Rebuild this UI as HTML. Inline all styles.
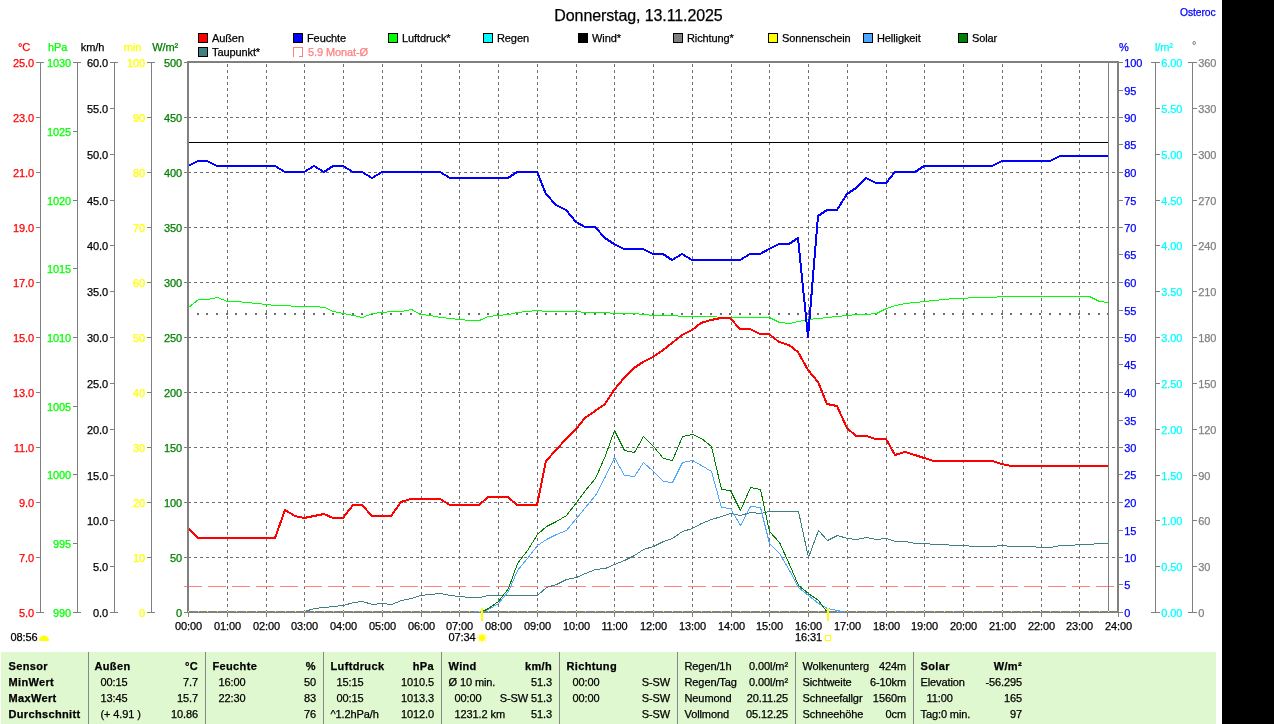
<!DOCTYPE html>
<html lang="de"><head><meta charset="utf-8"><title>Donnerstag, 13.11.2025</title>
<style>
html,body{margin:0;padding:0;background:#fff;}
body{width:1274px;height:724px;overflow:hidden;}
svg{display:block;font-family:"Liberation Sans",Arial,sans-serif;font-size:11px;}
text{stroke-width:0.25px;letter-spacing:-0.1px;}
.b{font-weight:bold;letter-spacing:0.35px;}
.e{text-anchor:end;}
.m{text-anchor:middle;}
.ax{stroke:#808080;stroke-width:1;shape-rendering:crispEdges;fill:none;}
.g{stroke:#707070;stroke-width:1;stroke-dasharray:3 3;shape-rendering:crispEdges;fill:none;}
.ln{fill:none;stroke-linejoin:round;stroke-linecap:butt;shape-rendering:crispEdges;}
</style></head><body>
<svg width="1274" height="724" viewBox="0 0 1274 724">
<rect x="0" y="0" width="1274" height="724" fill="#ffffff"/>
<text x="638.5" y="21" class="m" style="font-size:16px" fill="#000" stroke="#000">Donnerstag, 13.11.2025</text>
<text x="1180" y="16" fill="#0000ff" stroke="#0000ff" textLength="35.5" lengthAdjust="spacingAndGlyphs">Osteroc</text>
<rect x="198.5" y="33.5" width="9" height="9" fill="#ff0000" stroke="#000" stroke-width="1" shape-rendering="crispEdges"/>
<text x="212" y="42" fill="#000" stroke="#000">Außen</text>
<rect x="293.5" y="33.5" width="9" height="9" fill="#0000ff" stroke="#000" stroke-width="1" shape-rendering="crispEdges"/>
<text x="307" y="42" fill="#000" stroke="#000">Feuchte</text>
<rect x="388.5" y="33.5" width="9" height="9" fill="#00ff00" stroke="#000" stroke-width="1" shape-rendering="crispEdges"/>
<text x="402" y="42" fill="#000" stroke="#000">Luftdruck*</text>
<rect x="483.5" y="33.5" width="9" height="9" fill="#00ffff" stroke="#000" stroke-width="1" shape-rendering="crispEdges"/>
<text x="497" y="42" fill="#000" stroke="#000">Regen</text>
<rect x="578.5" y="33.5" width="9" height="9" fill="#000000" stroke="#000" stroke-width="1" shape-rendering="crispEdges"/>
<text x="592" y="42" fill="#000" stroke="#000">Wind*</text>
<rect x="673.5" y="33.5" width="9" height="9" fill="#808080" stroke="#000" stroke-width="1" shape-rendering="crispEdges"/>
<text x="687" y="42" fill="#000" stroke="#000">Richtung*</text>
<rect x="768.5" y="33.5" width="9" height="9" fill="#ffff00" stroke="#000" stroke-width="1" shape-rendering="crispEdges"/>
<text x="782" y="42" fill="#000" stroke="#000">Sonnenschein</text>
<rect x="863.5" y="33.5" width="9" height="9" fill="#4da6ff" stroke="#000" stroke-width="1" shape-rendering="crispEdges"/>
<text x="877" y="42" fill="#000" stroke="#000">Helligkeit</text>
<rect x="958.5" y="33.5" width="9" height="9" fill="#008000" stroke="#000" stroke-width="1" shape-rendering="crispEdges"/>
<text x="972" y="42" fill="#000" stroke="#000">Solar</text>
<rect x="198.5" y="47.5" width="9" height="9" fill="#408080" stroke="#000" stroke-width="1" shape-rendering="crispEdges"/>
<text x="212" y="56" fill="#000" stroke="#000">Taupunkt*</text>
<path d="M293.5 57V47.5H302.5V56.5H299" fill="none" stroke="#ff8080" stroke-width="1" shape-rendering="crispEdges"/>
<text x="308" y="56" fill="#ff8080" stroke="#ff8080">5.9 Monat-Ø</text>
<line class="g" x1="227.5" y1="64" x2="227.5" y2="611"/>
<line class="g" x1="266.5" y1="64" x2="266.5" y2="611"/>
<line class="g" x1="304.5" y1="64" x2="304.5" y2="611"/>
<line class="g" x1="343.5" y1="64" x2="343.5" y2="611"/>
<line class="g" x1="382.5" y1="64" x2="382.5" y2="611"/>
<line class="g" x1="421.5" y1="64" x2="421.5" y2="611"/>
<line class="g" x1="459.5" y1="64" x2="459.5" y2="611"/>
<line class="g" x1="498.5" y1="64" x2="498.5" y2="611"/>
<line class="g" x1="537.5" y1="64" x2="537.5" y2="611"/>
<line class="g" x1="576.5" y1="64" x2="576.5" y2="611"/>
<line class="g" x1="614.5" y1="64" x2="614.5" y2="611"/>
<line class="g" x1="653.5" y1="64" x2="653.5" y2="611"/>
<line class="g" x1="692.5" y1="64" x2="692.5" y2="611"/>
<line class="g" x1="731.5" y1="64" x2="731.5" y2="611"/>
<line class="g" x1="769.5" y1="64" x2="769.5" y2="611"/>
<line class="g" x1="808.5" y1="64" x2="808.5" y2="611"/>
<line class="g" x1="847.5" y1="64" x2="847.5" y2="611"/>
<line class="g" x1="886.5" y1="64" x2="886.5" y2="611"/>
<line class="g" x1="924.5" y1="64" x2="924.5" y2="611"/>
<line class="g" x1="963.5" y1="64" x2="963.5" y2="611"/>
<line class="g" x1="1002.5" y1="64" x2="1002.5" y2="611"/>
<line class="g" x1="1041.5" y1="64" x2="1041.5" y2="611"/>
<line class="g" x1="1079.5" y1="64" x2="1079.5" y2="611"/>
<line class="g" x1="188" y1="557.5" x2="1117" y2="557.5"/>
<line class="g" x1="188" y1="502.5" x2="1117" y2="502.5"/>
<line class="g" x1="188" y1="447.5" x2="1117" y2="447.5"/>
<line class="g" x1="188" y1="392.5" x2="1117" y2="392.5"/>
<line class="g" x1="188" y1="337.5" x2="1117" y2="337.5"/>
<line class="g" x1="188" y1="282.5" x2="1117" y2="282.5"/>
<line class="g" x1="188" y1="227.5" x2="1117" y2="227.5"/>
<line class="g" x1="188" y1="172.5" x2="1117" y2="172.5"/>
<line class="g" x1="188" y1="117.5" x2="1117" y2="117.5"/>
<g fill="#6c6c6c" shape-rendering="crispEdges"><rect x="197" y="313" width="2" height="2"/><rect x="206" y="313" width="2" height="2"/><rect x="216" y="313" width="2" height="2"/><rect x="226" y="313" width="2" height="2"/><rect x="235" y="313" width="2" height="2"/><rect x="245" y="313" width="2" height="2"/><rect x="255" y="313" width="2" height="2"/><rect x="265" y="313" width="2" height="2"/><rect x="274" y="313" width="2" height="2"/><rect x="284" y="313" width="2" height="2"/><rect x="294" y="313" width="2" height="2"/><rect x="303" y="313" width="2" height="2"/><rect x="313" y="313" width="2" height="2"/><rect x="323" y="313" width="2" height="2"/><rect x="332" y="313" width="2" height="2"/><rect x="342" y="313" width="2" height="2"/><rect x="352" y="313" width="2" height="2"/><rect x="361" y="313" width="2" height="2"/><rect x="371" y="313" width="2" height="2"/><rect x="381" y="313" width="2" height="2"/><rect x="390" y="313" width="2" height="2"/><rect x="400" y="313" width="2" height="2"/><rect x="410" y="313" width="2" height="2"/><rect x="419" y="313" width="2" height="2"/><rect x="429" y="313" width="2" height="2"/><rect x="439" y="313" width="2" height="2"/><rect x="449" y="313" width="2" height="2"/><rect x="458" y="313" width="2" height="2"/><rect x="468" y="313" width="2" height="2"/><rect x="478" y="313" width="2" height="2"/><rect x="487" y="313" width="2" height="2"/><rect x="497" y="313" width="2" height="2"/><rect x="507" y="313" width="2" height="2"/><rect x="516" y="313" width="2" height="2"/><rect x="526" y="313" width="2" height="2"/><rect x="536" y="313" width="2" height="2"/><rect x="545" y="313" width="2" height="2"/><rect x="555" y="313" width="2" height="2"/><rect x="565" y="313" width="2" height="2"/><rect x="575" y="313" width="2" height="2"/><rect x="584" y="313" width="2" height="2"/><rect x="594" y="313" width="2" height="2"/><rect x="604" y="313" width="2" height="2"/><rect x="613" y="313" width="2" height="2"/><rect x="623" y="313" width="2" height="2"/><rect x="633" y="313" width="2" height="2"/><rect x="642" y="313" width="2" height="2"/><rect x="652" y="313" width="2" height="2"/><rect x="662" y="313" width="2" height="2"/><rect x="671" y="313" width="2" height="2"/><rect x="681" y="313" width="2" height="2"/><rect x="691" y="313" width="2" height="2"/><rect x="700" y="313" width="2" height="2"/><rect x="710" y="313" width="2" height="2"/><rect x="720" y="313" width="2" height="2"/><rect x="729" y="313" width="2" height="2"/><rect x="739" y="313" width="2" height="2"/><rect x="749" y="313" width="2" height="2"/><rect x="759" y="313" width="2" height="2"/><rect x="768" y="313" width="2" height="2"/><rect x="778" y="313" width="2" height="2"/><rect x="788" y="313" width="2" height="2"/><rect x="797" y="313" width="2" height="2"/><rect x="807" y="313" width="2" height="2"/><rect x="817" y="313" width="2" height="2"/><rect x="826" y="313" width="2" height="2"/><rect x="836" y="313" width="2" height="2"/><rect x="846" y="313" width="2" height="2"/><rect x="855" y="313" width="2" height="2"/><rect x="865" y="313" width="2" height="2"/><rect x="875" y="313" width="2" height="2"/><rect x="885" y="313" width="2" height="2"/><rect x="894" y="313" width="2" height="2"/><rect x="904" y="313" width="2" height="2"/><rect x="914" y="313" width="2" height="2"/><rect x="923" y="313" width="2" height="2"/><rect x="933" y="313" width="2" height="2"/><rect x="943" y="313" width="2" height="2"/><rect x="952" y="313" width="2" height="2"/><rect x="962" y="313" width="2" height="2"/><rect x="972" y="313" width="2" height="2"/><rect x="981" y="313" width="2" height="2"/><rect x="991" y="313" width="2" height="2"/><rect x="1001" y="313" width="2" height="2"/><rect x="1010" y="313" width="2" height="2"/><rect x="1020" y="313" width="2" height="2"/><rect x="1030" y="313" width="2" height="2"/><rect x="1039" y="313" width="2" height="2"/><rect x="1049" y="313" width="2" height="2"/><rect x="1059" y="313" width="2" height="2"/><rect x="1069" y="313" width="2" height="2"/><rect x="1078" y="313" width="2" height="2"/><rect x="1088" y="313" width="2" height="2"/><rect x="1098" y="313" width="2" height="2"/><rect x="1107" y="313" width="2" height="2"/></g>
<line x1="189" y1="142.5" x2="1108" y2="142.5" stroke="#000" stroke-width="1" shape-rendering="crispEdges"/>
<line x1="184" y1="586.5" x2="1115" y2="586.5" stroke="#ff8080" stroke-width="1" stroke-dasharray="18 6" shape-rendering="crispEdges"/>
<polyline class="ln" stroke="#408080" stroke-width="1" points="304.5,611.5 314.5,608.5 324.5,607.5 333.5,606.5 343.5,605.5 353.5,602.5 362.5,601.5 372.5,604.5 382.5,603.5 391.5,604.5 401.5,600.5 411.5,598.5 420.5,595.5 430.5,594.5 440.5,593.5 450.5,595.5 459.5,596.5 469.5,597.5 479.5,597.5 488.5,595.5 498.5,595.5 508.5,595.5 517.5,595.5 527.5,595.5 537.5,595.5 546.5,587.5 556.5,584.5 566.5,579.5 576.5,577.5 585.5,573.5 595.5,569.5 605.5,568.5 614.5,564.5 624.5,560.5 634.5,555.5 643.5,549.5 653.5,546.5 663.5,541.5 672.5,538.5 682.5,531.5 692.5,528.5 701.5,523.5 711.5,519.5 721.5,516.5 730.5,513.5 740.5,515.5 750.5,512.5 760.5,513.5 769.5,511.5 779.5,511.5 789.5,511.5 798.5,511.5 808.5,557.5 818.5,530.5 827.5,540.5 837.5,535.5 847.5,538.5 856.5,539.5 866.5,537.5 876.5,539.5 886.5,538.5 895.5,541.5 905.5,541.5 915.5,543.5 924.5,543.5 934.5,544.5 944.5,544.5 953.5,545.5 963.5,545.5 973.5,546.5 982.5,546.5 992.5,546.5 1002.5,545.5 1011.5,546.5 1021.5,546.5 1031.5,546.5 1040.5,547.5 1050.5,547.5 1060.5,545.5 1070.5,545.5 1079.5,544.5 1089.5,544.5 1099.5,543.5 1108.5,543.5"/>
<polyline class="ln" stroke="#4da6ff" stroke-width="1" points="482.5,611.5 488.5,609.5 498.5,603.5 508.5,591.5 517.5,570.5 527.5,558.5 537.5,545.5 546.5,539.5 556.5,534.5 566.5,530.5 576.5,518.5 585.5,507.5 595.5,495.5 605.5,476.5 614.5,457.5 624.5,475.5 634.5,476.5 643.5,462.5 653.5,471.5 663.5,481.5 672.5,482.5 682.5,462.5 692.5,460.5 701.5,465.5 711.5,471.5 721.5,507.5 730.5,508.5 740.5,525.5 750.5,506.5 760.5,507.5 769.5,543.5 779.5,553.5 789.5,570.5 798.5,587.5 808.5,595.5 818.5,603.5 827.5,608.5 837.5,610.5 847.5,612.5"/>
<polyline class="ln" stroke="#008000" stroke-width="1" points="482.5,611.5 488.5,608.5 498.5,601.5 508.5,588.5 517.5,563.5 527.5,550.5 537.5,534.5 546.5,526.5 556.5,521.5 566.5,515.5 576.5,502.5 585.5,490.5 595.5,478.5 605.5,455.5 614.5,430.5 624.5,450.5 634.5,452.5 643.5,436.5 653.5,446.5 663.5,458.5 672.5,460.5 682.5,436.5 692.5,434.5 701.5,438.5 711.5,446.5 721.5,489.5 730.5,490.5 740.5,510.5 750.5,487.5 760.5,489.5 769.5,531.5 779.5,542.5 789.5,564.5 798.5,585.5 808.5,593.5 818.5,600.5 827.5,612.5"/>
<polyline class="ln" stroke="#00ff00" stroke-width="1" points="188.5,307.5 198.5,299.5 207.5,299.5 217.5,297.5 227.5,301.5 236.5,301.5 246.5,302.5 256.5,303.5 266.5,304.5 275.5,305.5 285.5,305.5 295.5,306.5 304.5,306.5 314.5,306.5 324.5,307.5 333.5,311.5 343.5,313.5 353.5,315.5 362.5,317.5 372.5,313.5 382.5,312.5 391.5,311.5 401.5,311.5 411.5,309.5 420.5,314.5 430.5,315.5 440.5,317.5 450.5,318.5 459.5,319.5 469.5,320.5 479.5,320.5 488.5,316.5 498.5,315.5 508.5,314.5 517.5,312.5 527.5,311.5 537.5,310.5 546.5,311.5 556.5,311.5 566.5,311.5 576.5,311.5 585.5,312.5 595.5,312.5 605.5,312.5 614.5,313.5 624.5,313.5 634.5,313.5 643.5,314.5 653.5,315.5 663.5,315.5 672.5,315.5 682.5,316.5 692.5,316.5 701.5,316.5 711.5,316.5 721.5,317.5 730.5,317.5 740.5,317.5 750.5,317.5 760.5,317.5 769.5,317.5 779.5,322.5 789.5,323.5 798.5,321.5 808.5,319.5 818.5,318.5 827.5,317.5 837.5,316.5 847.5,315.5 856.5,314.5 866.5,314.5 876.5,313.5 886.5,308.5 895.5,305.5 905.5,303.5 915.5,302.5 924.5,301.5 934.5,300.5 944.5,299.5 953.5,298.5 963.5,298.5 973.5,297.5 982.5,297.5 992.5,297.5 1002.5,296.5 1011.5,296.5 1021.5,296.5 1031.5,296.5 1040.5,296.5 1050.5,296.5 1060.5,296.5 1070.5,296.5 1079.5,296.5 1089.5,296.5 1099.5,301.5 1108.5,302.5"/>
<polyline class="ln" stroke="#ff0000" stroke-width="2" points="188.0,528.0 198.0,538.0 207.0,538.0 217.0,538.0 227.0,538.0 236.0,538.0 246.0,538.0 256.0,538.0 266.0,538.0 275.0,538.0 285.0,510.0 295.0,516.0 304.0,518.0 314.0,516.0 324.0,514.0 333.0,518.0 343.0,518.0 353.0,505.0 362.0,505.0 372.0,516.0 382.0,516.0 391.0,516.0 401.0,502.0 411.0,499.0 420.0,499.0 430.0,499.0 440.0,499.0 450.0,505.0 459.0,505.0 469.0,505.0 479.0,505.0 488.0,497.0 498.0,497.0 508.0,497.0 517.0,505.0 527.0,505.0 537.0,505.0 546.0,461.0 556.0,450.0 566.0,439.0 576.0,429.0 585.0,418.0 595.0,411.0 605.0,404.0 614.0,390.0 624.0,378.0 634.0,368.0 643.0,362.0 653.0,357.0 663.0,350.0 672.0,343.0 682.0,335.0 692.0,330.0 701.0,323.0 711.0,320.0 721.0,318.0 730.0,318.0 740.0,329.0 750.0,329.0 760.0,334.0 769.0,334.0 779.0,342.0 789.0,345.0 798.0,352.0 808.0,370.0 818.0,382.0 827.0,404.0 837.0,406.0 847.0,428.0 856.0,436.0 866.0,436.0 876.0,439.0 886.0,439.0 895.0,455.0 905.0,452.0 915.0,455.0 924.0,458.0 934.0,461.0 944.0,461.0 953.0,461.0 963.0,461.0 973.0,461.0 982.0,461.0 992.0,461.0 1002.0,464.0 1011.0,466.0 1021.0,466.0 1031.0,466.0 1040.0,466.0 1050.0,466.0 1060.0,466.0 1070.0,466.0 1079.0,466.0 1089.0,466.0 1099.0,466.0 1108.0,466.0"/>
<polyline class="ln" stroke="#0000ff" stroke-width="2" points="188.0,166.0 198.0,161.0 207.0,161.0 217.0,166.0 227.0,166.0 236.0,166.0 246.0,166.0 256.0,166.0 266.0,166.0 275.0,166.0 285.0,172.0 295.0,172.0 304.0,172.0 314.0,166.0 324.0,172.0 333.0,166.0 343.0,166.0 353.0,172.0 362.0,172.0 372.0,178.0 382.0,172.0 391.0,172.0 401.0,172.0 411.0,172.0 420.0,172.0 430.0,172.0 440.0,172.0 450.0,178.0 459.0,178.0 469.0,178.0 479.0,178.0 488.0,178.0 498.0,178.0 508.0,178.0 517.0,172.0 527.0,172.0 537.0,172.0 546.0,194.0 556.0,205.0 566.0,210.0 576.0,222.0 585.0,227.0 595.0,227.0 605.0,238.0 614.0,244.0 624.0,249.0 634.0,249.0 643.0,249.0 653.0,254.0 663.0,254.0 672.0,260.0 682.0,254.0 692.0,260.0 701.0,260.0 711.0,260.0 721.0,260.0 730.0,260.0 740.0,260.0 750.0,254.0 760.0,254.0 769.0,249.0 779.0,244.0 789.0,244.0 798.0,238.0 808.0,337.0 818.0,216.0 827.0,210.0 837.0,210.0 847.0,194.0 856.0,188.0 866.0,178.0 876.0,183.0 886.0,183.0 895.0,172.0 905.0,172.0 915.0,172.0 924.0,166.0 934.0,166.0 944.0,166.0 953.0,166.0 963.0,166.0 973.0,166.0 982.0,166.0 992.0,166.0 1002.0,161.0 1011.0,161.0 1021.0,161.0 1031.0,161.0 1040.0,161.0 1050.0,161.0 1060.0,156.0 1070.0,156.0 1079.0,156.0 1089.0,156.0 1099.0,156.0 1108.0,156.0"/>
<line class="ax" x1="1108.5" y1="63" x2="1108.5" y2="611"/>
<g fill="#808080" shape-rendering="crispEdges">
<rect x="187" y="61" width="932" height="2"/>
<rect x="187" y="611" width="932" height="2"/>
<rect x="187" y="61" width="2" height="552"/>
<rect x="1117" y="61" width="2" height="552"/>
</g>
<line x1="474" y1="611.5" x2="484" y2="611.5" stroke="#4da6ff" stroke-width="1" shape-rendering="crispEdges"/>
<line x1="838" y1="611.5" x2="845" y2="611.5" stroke="#4da6ff" stroke-width="1" shape-rendering="crispEdges"/>
<g fill="#ffff00" shape-rendering="crispEdges"><rect x="188" y="611" width="1" height="1"/><rect x="198" y="611" width="1" height="1"/><rect x="207" y="611" width="1" height="1"/><rect x="217" y="611" width="1" height="1"/><rect x="227" y="611" width="1" height="1"/><rect x="236" y="611" width="1" height="1"/><rect x="246" y="611" width="1" height="1"/><rect x="256" y="611" width="1" height="1"/><rect x="266" y="611" width="1" height="1"/><rect x="275" y="611" width="1" height="1"/><rect x="285" y="611" width="1" height="1"/><rect x="295" y="611" width="1" height="1"/><rect x="304" y="611" width="1" height="1"/><rect x="314" y="611" width="1" height="1"/><rect x="324" y="611" width="1" height="1"/><rect x="333" y="611" width="1" height="1"/><rect x="343" y="611" width="1" height="1"/><rect x="353" y="611" width="1" height="1"/><rect x="362" y="611" width="1" height="1"/><rect x="372" y="611" width="1" height="1"/><rect x="382" y="611" width="1" height="1"/><rect x="391" y="611" width="1" height="1"/><rect x="401" y="611" width="1" height="1"/><rect x="411" y="611" width="1" height="1"/><rect x="420" y="611" width="1" height="1"/><rect x="430" y="611" width="1" height="1"/><rect x="440" y="611" width="1" height="1"/><rect x="450" y="611" width="1" height="1"/><rect x="459" y="611" width="1" height="1"/><rect x="469" y="611" width="1" height="1"/><rect x="479" y="611" width="1" height="1"/><rect x="488" y="611" width="1" height="1"/><rect x="498" y="611" width="1" height="1"/><rect x="508" y="611" width="1" height="1"/><rect x="517" y="611" width="1" height="1"/><rect x="527" y="611" width="1" height="1"/><rect x="537" y="611" width="1" height="1"/><rect x="546" y="611" width="1" height="1"/><rect x="556" y="611" width="1" height="1"/><rect x="566" y="611" width="1" height="1"/><rect x="576" y="611" width="1" height="1"/><rect x="585" y="611" width="1" height="1"/><rect x="595" y="611" width="1" height="1"/><rect x="605" y="611" width="1" height="1"/><rect x="614" y="611" width="1" height="1"/><rect x="624" y="611" width="1" height="1"/><rect x="634" y="611" width="1" height="1"/><rect x="643" y="611" width="1" height="1"/><rect x="653" y="611" width="1" height="1"/><rect x="663" y="611" width="1" height="1"/><rect x="672" y="611" width="1" height="1"/><rect x="682" y="611" width="1" height="1"/><rect x="692" y="611" width="1" height="1"/><rect x="701" y="611" width="1" height="1"/><rect x="711" y="611" width="1" height="1"/><rect x="721" y="611" width="1" height="1"/><rect x="730" y="611" width="1" height="1"/><rect x="740" y="611" width="1" height="1"/><rect x="750" y="611" width="1" height="1"/><rect x="760" y="611" width="1" height="1"/><rect x="769" y="611" width="1" height="1"/><rect x="779" y="611" width="1" height="1"/><rect x="789" y="611" width="1" height="1"/><rect x="798" y="611" width="1" height="1"/><rect x="808" y="611" width="1" height="1"/><rect x="818" y="611" width="1" height="1"/><rect x="827" y="611" width="1" height="1"/><rect x="837" y="611" width="1" height="1"/><rect x="847" y="611" width="1" height="1"/><rect x="856" y="611" width="1" height="1"/><rect x="866" y="611" width="1" height="1"/><rect x="876" y="611" width="1" height="1"/><rect x="886" y="611" width="1" height="1"/><rect x="895" y="611" width="1" height="1"/><rect x="905" y="611" width="1" height="1"/><rect x="915" y="611" width="1" height="1"/><rect x="924" y="611" width="1" height="1"/><rect x="934" y="611" width="1" height="1"/><rect x="944" y="611" width="1" height="1"/><rect x="953" y="611" width="1" height="1"/><rect x="963" y="611" width="1" height="1"/><rect x="973" y="611" width="1" height="1"/><rect x="982" y="611" width="1" height="1"/><rect x="992" y="611" width="1" height="1"/><rect x="1002" y="611" width="1" height="1"/><rect x="1011" y="611" width="1" height="1"/><rect x="1021" y="611" width="1" height="1"/><rect x="1031" y="611" width="1" height="1"/><rect x="1040" y="611" width="1" height="1"/><rect x="1050" y="611" width="1" height="1"/><rect x="1060" y="611" width="1" height="1"/><rect x="1070" y="611" width="1" height="1"/><rect x="1079" y="611" width="1" height="1"/><rect x="1089" y="611" width="1" height="1"/><rect x="1099" y="611" width="1" height="1"/><rect x="1108" y="611" width="1" height="1"/></g>
<line class="ax" x1="188.5" y1="613" x2="188.5" y2="617"/>
<text class="m" x="188.5" y="630" fill="#000" stroke="#000">00:00</text>
<line class="ax" x1="227.5" y1="613" x2="227.5" y2="617"/>
<text class="m" x="227.5" y="630" fill="#000" stroke="#000">01:00</text>
<line class="ax" x1="266.5" y1="613" x2="266.5" y2="617"/>
<text class="m" x="266.5" y="630" fill="#000" stroke="#000">02:00</text>
<line class="ax" x1="304.5" y1="613" x2="304.5" y2="617"/>
<text class="m" x="304.5" y="630" fill="#000" stroke="#000">03:00</text>
<line class="ax" x1="343.5" y1="613" x2="343.5" y2="617"/>
<text class="m" x="343.5" y="630" fill="#000" stroke="#000">04:00</text>
<line class="ax" x1="382.5" y1="613" x2="382.5" y2="617"/>
<text class="m" x="382.5" y="630" fill="#000" stroke="#000">05:00</text>
<line class="ax" x1="421.5" y1="613" x2="421.5" y2="617"/>
<text class="m" x="421.5" y="630" fill="#000" stroke="#000">06:00</text>
<line class="ax" x1="459.5" y1="613" x2="459.5" y2="617"/>
<text class="m" x="459.5" y="630" fill="#000" stroke="#000">07:00</text>
<line class="ax" x1="498.5" y1="613" x2="498.5" y2="617"/>
<text class="m" x="498.5" y="630" fill="#000" stroke="#000">08:00</text>
<line class="ax" x1="537.5" y1="613" x2="537.5" y2="617"/>
<text class="m" x="537.5" y="630" fill="#000" stroke="#000">09:00</text>
<line class="ax" x1="576.5" y1="613" x2="576.5" y2="617"/>
<text class="m" x="576.5" y="630" fill="#000" stroke="#000">10:00</text>
<line class="ax" x1="614.5" y1="613" x2="614.5" y2="617"/>
<text class="m" x="614.5" y="630" fill="#000" stroke="#000">11:00</text>
<line class="ax" x1="653.5" y1="613" x2="653.5" y2="617"/>
<text class="m" x="653.5" y="630" fill="#000" stroke="#000">12:00</text>
<line class="ax" x1="692.5" y1="613" x2="692.5" y2="617"/>
<text class="m" x="692.5" y="630" fill="#000" stroke="#000">13:00</text>
<line class="ax" x1="731.5" y1="613" x2="731.5" y2="617"/>
<text class="m" x="731.5" y="630" fill="#000" stroke="#000">14:00</text>
<line class="ax" x1="769.5" y1="613" x2="769.5" y2="617"/>
<text class="m" x="769.5" y="630" fill="#000" stroke="#000">15:00</text>
<line class="ax" x1="808.5" y1="613" x2="808.5" y2="617"/>
<text class="m" x="808.5" y="630" fill="#000" stroke="#000">16:00</text>
<line class="ax" x1="847.5" y1="613" x2="847.5" y2="617"/>
<text class="m" x="847.5" y="630" fill="#000" stroke="#000">17:00</text>
<line class="ax" x1="886.5" y1="613" x2="886.5" y2="617"/>
<text class="m" x="886.5" y="630" fill="#000" stroke="#000">18:00</text>
<line class="ax" x1="924.5" y1="613" x2="924.5" y2="617"/>
<text class="m" x="924.5" y="630" fill="#000" stroke="#000">19:00</text>
<line class="ax" x1="963.5" y1="613" x2="963.5" y2="617"/>
<text class="m" x="963.5" y="630" fill="#000" stroke="#000">20:00</text>
<line class="ax" x1="1002.5" y1="613" x2="1002.5" y2="617"/>
<text class="m" x="1002.5" y="630" fill="#000" stroke="#000">21:00</text>
<line class="ax" x1="1041.5" y1="613" x2="1041.5" y2="617"/>
<text class="m" x="1041.5" y="630" fill="#000" stroke="#000">22:00</text>
<line class="ax" x1="1079.5" y1="613" x2="1079.5" y2="617"/>
<text class="m" x="1079.5" y="630" fill="#000" stroke="#000">23:00</text>
<line class="ax" x1="1118.5" y1="613" x2="1118.5" y2="617"/>
<text class="m" x="1118.5" y="630" fill="#000" stroke="#000">24:00</text>
<rect x="481" y="608" width="2" height="13" fill="#ffff00" shape-rendering="crispEdges"/>
<rect x="827" y="608" width="2" height="13" fill="#ffff00" shape-rendering="crispEdges"/>
<text x="448.5" y="641" fill="#000" stroke="#000">07:34</text>
<g><path d="M482 632.5V643M476.8 637.8H487.2M478.3 634.1L485.7 641.5M485.7 634.1L478.3 641.5" fill="none" stroke="#ffff70" stroke-width="1.3"/><circle cx="482" cy="637.8" r="3.1" fill="#ffff00"/></g>
<text x="795" y="641" fill="#000" stroke="#000">16:31</text>
<rect x="825.5" y="635.5" width="5" height="5" fill="none" stroke="#ffff00" stroke-width="1" shape-rendering="crispEdges"/>
<text x="10.5" y="641" fill="#000" stroke="#000">08:56</text>
<path d="M39.5 640.5a4.5 4.5 0 0 1 9 0z" fill="#ffff00" stroke="#ffff00" stroke-width="1"/>
<text class="e" x="30.2" y="51" fill="#ff0000" stroke="#ff0000">°C</text>
<line class="ax" x1="40.5" y1="62" x2="40.5" y2="613"/>
<line class="ax" x1="36" y1="62.5" x2="44" y2="62.5"/>
<line class="ax" x1="36" y1="612.5" x2="44" y2="612.5"/>
<line class="ax" x1="36" y1="612.5" x2="40" y2="612.5"/>
<text class="e" x="34.0" y="617" fill="#ff0000" stroke="#ff0000">5.0</text>
<line class="ax" x1="36" y1="557.5" x2="40" y2="557.5"/>
<text class="e" x="34.0" y="562" fill="#ff0000" stroke="#ff0000">7.0</text>
<line class="ax" x1="36" y1="502.5" x2="40" y2="502.5"/>
<text class="e" x="34.0" y="507" fill="#ff0000" stroke="#ff0000">9.0</text>
<line class="ax" x1="36" y1="447.5" x2="40" y2="447.5"/>
<text class="e" x="34.0" y="452" fill="#ff0000" stroke="#ff0000">11.0</text>
<line class="ax" x1="36" y1="392.5" x2="40" y2="392.5"/>
<text class="e" x="34.0" y="397" fill="#ff0000" stroke="#ff0000">13.0</text>
<line class="ax" x1="36" y1="337.5" x2="40" y2="337.5"/>
<text class="e" x="34.0" y="342" fill="#ff0000" stroke="#ff0000">15.0</text>
<line class="ax" x1="36" y1="282.5" x2="40" y2="282.5"/>
<text class="e" x="34.0" y="287" fill="#ff0000" stroke="#ff0000">17.0</text>
<line class="ax" x1="36" y1="227.5" x2="40" y2="227.5"/>
<text class="e" x="34.0" y="232" fill="#ff0000" stroke="#ff0000">19.0</text>
<line class="ax" x1="36" y1="172.5" x2="40" y2="172.5"/>
<text class="e" x="34.0" y="177" fill="#ff0000" stroke="#ff0000">21.0</text>
<line class="ax" x1="36" y1="117.5" x2="40" y2="117.5"/>
<text class="e" x="34.0" y="122" fill="#ff0000" stroke="#ff0000">23.0</text>
<line class="ax" x1="36" y1="62.5" x2="40" y2="62.5"/>
<text class="e" x="34.0" y="67" fill="#ff0000" stroke="#ff0000">25.0</text>
<text class="e" x="67.2" y="51" fill="#00ff00" stroke="#00ff00">hPa</text>
<line class="ax" x1="77.5" y1="62" x2="77.5" y2="613"/>
<line class="ax" x1="73" y1="62.5" x2="81" y2="62.5"/>
<line class="ax" x1="73" y1="612.5" x2="81" y2="612.5"/>
<line class="ax" x1="73" y1="612.5" x2="77" y2="612.5"/>
<text class="e" x="71.0" y="617" fill="#00ff00" stroke="#00ff00">990</text>
<line class="ax" x1="73" y1="543.5" x2="77" y2="543.5"/>
<text class="e" x="71.0" y="548" fill="#00ff00" stroke="#00ff00">995</text>
<line class="ax" x1="73" y1="474.5" x2="77" y2="474.5"/>
<text class="e" x="71.0" y="479" fill="#00ff00" stroke="#00ff00">1000</text>
<line class="ax" x1="73" y1="406.5" x2="77" y2="406.5"/>
<text class="e" x="71.0" y="411" fill="#00ff00" stroke="#00ff00">1005</text>
<line class="ax" x1="73" y1="337.5" x2="77" y2="337.5"/>
<text class="e" x="71.0" y="342" fill="#00ff00" stroke="#00ff00">1010</text>
<line class="ax" x1="73" y1="268.5" x2="77" y2="268.5"/>
<text class="e" x="71.0" y="273" fill="#00ff00" stroke="#00ff00">1015</text>
<line class="ax" x1="73" y1="200.5" x2="77" y2="200.5"/>
<text class="e" x="71.0" y="205" fill="#00ff00" stroke="#00ff00">1020</text>
<line class="ax" x1="73" y1="131.5" x2="77" y2="131.5"/>
<text class="e" x="71.0" y="136" fill="#00ff00" stroke="#00ff00">1025</text>
<line class="ax" x1="73" y1="62.5" x2="77" y2="62.5"/>
<text class="e" x="71.0" y="67" fill="#00ff00" stroke="#00ff00">1030</text>
<text class="e" x="104.2" y="51" fill="#000000" stroke="#000000">km/h</text>
<line class="ax" x1="114.5" y1="62" x2="114.5" y2="613"/>
<line class="ax" x1="110" y1="62.5" x2="118" y2="62.5"/>
<line class="ax" x1="110" y1="612.5" x2="118" y2="612.5"/>
<line class="ax" x1="110" y1="612.5" x2="114" y2="612.5"/>
<text class="e" x="108.0" y="617" fill="#000000" stroke="#000000">0.0</text>
<line class="ax" x1="110" y1="566.5" x2="114" y2="566.5"/>
<text class="e" x="108.0" y="571" fill="#000000" stroke="#000000">5.0</text>
<line class="ax" x1="110" y1="520.5" x2="114" y2="520.5"/>
<text class="e" x="108.0" y="525" fill="#000000" stroke="#000000">10.0</text>
<line class="ax" x1="110" y1="475.5" x2="114" y2="475.5"/>
<text class="e" x="108.0" y="480" fill="#000000" stroke="#000000">15.0</text>
<line class="ax" x1="110" y1="429.5" x2="114" y2="429.5"/>
<text class="e" x="108.0" y="434" fill="#000000" stroke="#000000">20.0</text>
<line class="ax" x1="110" y1="383.5" x2="114" y2="383.5"/>
<text class="e" x="108.0" y="388" fill="#000000" stroke="#000000">25.0</text>
<line class="ax" x1="110" y1="337.5" x2="114" y2="337.5"/>
<text class="e" x="108.0" y="342" fill="#000000" stroke="#000000">30.0</text>
<line class="ax" x1="110" y1="291.5" x2="114" y2="291.5"/>
<text class="e" x="108.0" y="296" fill="#000000" stroke="#000000">35.0</text>
<line class="ax" x1="110" y1="245.5" x2="114" y2="245.5"/>
<text class="e" x="108.0" y="250" fill="#000000" stroke="#000000">40.0</text>
<line class="ax" x1="110" y1="200.5" x2="114" y2="200.5"/>
<text class="e" x="108.0" y="205" fill="#000000" stroke="#000000">45.0</text>
<line class="ax" x1="110" y1="154.5" x2="114" y2="154.5"/>
<text class="e" x="108.0" y="159" fill="#000000" stroke="#000000">50.0</text>
<line class="ax" x1="110" y1="108.5" x2="114" y2="108.5"/>
<text class="e" x="108.0" y="113" fill="#000000" stroke="#000000">55.0</text>
<line class="ax" x1="110" y1="62.5" x2="114" y2="62.5"/>
<text class="e" x="108.0" y="67" fill="#000000" stroke="#000000">60.0</text>
<text class="e" x="141.2" y="51" fill="#ffff00" stroke="#ffff00">min</text>
<line class="ax" x1="151.5" y1="62" x2="151.5" y2="613"/>
<line class="ax" x1="147" y1="62.5" x2="155" y2="62.5"/>
<line class="ax" x1="147" y1="612.5" x2="155" y2="612.5"/>
<line class="ax" x1="147" y1="612.5" x2="151" y2="612.5"/>
<text class="e" x="145.0" y="617" fill="#ffff00" stroke="#ffff00">0</text>
<line class="ax" x1="147" y1="557.5" x2="151" y2="557.5"/>
<text class="e" x="145.0" y="562" fill="#ffff00" stroke="#ffff00">10</text>
<line class="ax" x1="147" y1="502.5" x2="151" y2="502.5"/>
<text class="e" x="145.0" y="507" fill="#ffff00" stroke="#ffff00">20</text>
<line class="ax" x1="147" y1="447.5" x2="151" y2="447.5"/>
<text class="e" x="145.0" y="452" fill="#ffff00" stroke="#ffff00">30</text>
<line class="ax" x1="147" y1="392.5" x2="151" y2="392.5"/>
<text class="e" x="145.0" y="397" fill="#ffff00" stroke="#ffff00">40</text>
<line class="ax" x1="147" y1="337.5" x2="151" y2="337.5"/>
<text class="e" x="145.0" y="342" fill="#ffff00" stroke="#ffff00">50</text>
<line class="ax" x1="147" y1="282.5" x2="151" y2="282.5"/>
<text class="e" x="145.0" y="287" fill="#ffff00" stroke="#ffff00">60</text>
<line class="ax" x1="147" y1="227.5" x2="151" y2="227.5"/>
<text class="e" x="145.0" y="232" fill="#ffff00" stroke="#ffff00">70</text>
<line class="ax" x1="147" y1="172.5" x2="151" y2="172.5"/>
<text class="e" x="145.0" y="177" fill="#ffff00" stroke="#ffff00">80</text>
<line class="ax" x1="147" y1="117.5" x2="151" y2="117.5"/>
<text class="e" x="145.0" y="122" fill="#ffff00" stroke="#ffff00">90</text>
<line class="ax" x1="147" y1="62.5" x2="151" y2="62.5"/>
<text class="e" x="145.0" y="67" fill="#ffff00" stroke="#ffff00">100</text>
<text class="e" x="178.2" y="51" fill="#008000" stroke="#008000">W/m²</text>
<line class="ax" x1="184" y1="612.5" x2="188" y2="612.5"/>
<text class="e" x="182.0" y="617" fill="#008000" stroke="#008000">0</text>
<line class="ax" x1="184" y1="557.5" x2="188" y2="557.5"/>
<text class="e" x="182.0" y="562" fill="#008000" stroke="#008000">50</text>
<line class="ax" x1="184" y1="502.5" x2="188" y2="502.5"/>
<text class="e" x="182.0" y="507" fill="#008000" stroke="#008000">100</text>
<line class="ax" x1="184" y1="447.5" x2="188" y2="447.5"/>
<text class="e" x="182.0" y="452" fill="#008000" stroke="#008000">150</text>
<line class="ax" x1="184" y1="392.5" x2="188" y2="392.5"/>
<text class="e" x="182.0" y="397" fill="#008000" stroke="#008000">200</text>
<line class="ax" x1="184" y1="337.5" x2="188" y2="337.5"/>
<text class="e" x="182.0" y="342" fill="#008000" stroke="#008000">250</text>
<line class="ax" x1="184" y1="282.5" x2="188" y2="282.5"/>
<text class="e" x="182.0" y="287" fill="#008000" stroke="#008000">300</text>
<line class="ax" x1="184" y1="227.5" x2="188" y2="227.5"/>
<text class="e" x="182.0" y="232" fill="#008000" stroke="#008000">350</text>
<line class="ax" x1="184" y1="172.5" x2="188" y2="172.5"/>
<text class="e" x="182.0" y="177" fill="#008000" stroke="#008000">400</text>
<line class="ax" x1="184" y1="117.5" x2="188" y2="117.5"/>
<text class="e" x="182.0" y="122" fill="#008000" stroke="#008000">450</text>
<line class="ax" x1="184" y1="62.5" x2="188" y2="62.5"/>
<text class="e" x="182.0" y="67" fill="#008000" stroke="#008000">500</text>
<text x="1119" y="51" fill="#0000ff" stroke="#0000ff">%</text>
<line class="ax" x1="1119" y1="612.5" x2="1123" y2="612.5"/>
<text x="1124.25" y="617" fill="#0000ff" stroke="#0000ff">0</text>
<line class="ax" x1="1119" y1="584.5" x2="1123" y2="584.5"/>
<text x="1124.25" y="589" fill="#0000ff" stroke="#0000ff">5</text>
<line class="ax" x1="1119" y1="557.5" x2="1123" y2="557.5"/>
<text x="1124.25" y="562" fill="#0000ff" stroke="#0000ff">10</text>
<line class="ax" x1="1119" y1="530.5" x2="1123" y2="530.5"/>
<text x="1124.25" y="535" fill="#0000ff" stroke="#0000ff">15</text>
<line class="ax" x1="1119" y1="502.5" x2="1123" y2="502.5"/>
<text x="1124.25" y="507" fill="#0000ff" stroke="#0000ff">20</text>
<line class="ax" x1="1119" y1="474.5" x2="1123" y2="474.5"/>
<text x="1124.25" y="479" fill="#0000ff" stroke="#0000ff">25</text>
<line class="ax" x1="1119" y1="447.5" x2="1123" y2="447.5"/>
<text x="1124.25" y="452" fill="#0000ff" stroke="#0000ff">30</text>
<line class="ax" x1="1119" y1="420.5" x2="1123" y2="420.5"/>
<text x="1124.25" y="425" fill="#0000ff" stroke="#0000ff">35</text>
<line class="ax" x1="1119" y1="392.5" x2="1123" y2="392.5"/>
<text x="1124.25" y="397" fill="#0000ff" stroke="#0000ff">40</text>
<line class="ax" x1="1119" y1="364.5" x2="1123" y2="364.5"/>
<text x="1124.25" y="369" fill="#0000ff" stroke="#0000ff">45</text>
<line class="ax" x1="1119" y1="337.5" x2="1123" y2="337.5"/>
<text x="1124.25" y="342" fill="#0000ff" stroke="#0000ff">50</text>
<line class="ax" x1="1119" y1="310.5" x2="1123" y2="310.5"/>
<text x="1124.25" y="315" fill="#0000ff" stroke="#0000ff">55</text>
<line class="ax" x1="1119" y1="282.5" x2="1123" y2="282.5"/>
<text x="1124.25" y="287" fill="#0000ff" stroke="#0000ff">60</text>
<line class="ax" x1="1119" y1="254.5" x2="1123" y2="254.5"/>
<text x="1124.25" y="259" fill="#0000ff" stroke="#0000ff">65</text>
<line class="ax" x1="1119" y1="227.5" x2="1123" y2="227.5"/>
<text x="1124.25" y="232" fill="#0000ff" stroke="#0000ff">70</text>
<line class="ax" x1="1119" y1="200.5" x2="1123" y2="200.5"/>
<text x="1124.25" y="205" fill="#0000ff" stroke="#0000ff">75</text>
<line class="ax" x1="1119" y1="172.5" x2="1123" y2="172.5"/>
<text x="1124.25" y="177" fill="#0000ff" stroke="#0000ff">80</text>
<line class="ax" x1="1119" y1="144.5" x2="1123" y2="144.5"/>
<text x="1124.25" y="149" fill="#0000ff" stroke="#0000ff">85</text>
<line class="ax" x1="1119" y1="117.5" x2="1123" y2="117.5"/>
<text x="1124.25" y="122" fill="#0000ff" stroke="#0000ff">90</text>
<line class="ax" x1="1119" y1="90.5" x2="1123" y2="90.5"/>
<text x="1124.25" y="95" fill="#0000ff" stroke="#0000ff">95</text>
<line class="ax" x1="1119" y1="62.5" x2="1123" y2="62.5"/>
<text x="1124.25" y="67" fill="#0000ff" stroke="#0000ff">100</text>
<text x="1155" y="51" fill="#00ffff" stroke="#00ffff">l/m²</text>
<line class="ax" x1="1155.5" y1="62" x2="1155.5" y2="613"/>
<line class="ax" x1="1151" y1="62.5" x2="1159" y2="62.5"/>
<line class="ax" x1="1151" y1="612.5" x2="1159" y2="612.5"/>
<line class="ax" x1="1156" y1="612.5" x2="1160" y2="612.5"/>
<text x="1161.25" y="617" fill="#00ffff" stroke="#00ffff">0.00</text>
<line class="ax" x1="1156" y1="566.5" x2="1160" y2="566.5"/>
<text x="1161.25" y="571" fill="#00ffff" stroke="#00ffff">0.50</text>
<line class="ax" x1="1156" y1="520.5" x2="1160" y2="520.5"/>
<text x="1161.25" y="525" fill="#00ffff" stroke="#00ffff">1.00</text>
<line class="ax" x1="1156" y1="475.5" x2="1160" y2="475.5"/>
<text x="1161.25" y="480" fill="#00ffff" stroke="#00ffff">1.50</text>
<line class="ax" x1="1156" y1="429.5" x2="1160" y2="429.5"/>
<text x="1161.25" y="434" fill="#00ffff" stroke="#00ffff">2.00</text>
<line class="ax" x1="1156" y1="383.5" x2="1160" y2="383.5"/>
<text x="1161.25" y="388" fill="#00ffff" stroke="#00ffff">2.50</text>
<line class="ax" x1="1156" y1="337.5" x2="1160" y2="337.5"/>
<text x="1161.25" y="342" fill="#00ffff" stroke="#00ffff">3.00</text>
<line class="ax" x1="1156" y1="291.5" x2="1160" y2="291.5"/>
<text x="1161.25" y="296" fill="#00ffff" stroke="#00ffff">3.50</text>
<line class="ax" x1="1156" y1="245.5" x2="1160" y2="245.5"/>
<text x="1161.25" y="250" fill="#00ffff" stroke="#00ffff">4.00</text>
<line class="ax" x1="1156" y1="200.5" x2="1160" y2="200.5"/>
<text x="1161.25" y="205" fill="#00ffff" stroke="#00ffff">4.50</text>
<line class="ax" x1="1156" y1="154.5" x2="1160" y2="154.5"/>
<text x="1161.25" y="159" fill="#00ffff" stroke="#00ffff">5.00</text>
<line class="ax" x1="1156" y1="108.5" x2="1160" y2="108.5"/>
<text x="1161.25" y="113" fill="#00ffff" stroke="#00ffff">5.50</text>
<line class="ax" x1="1156" y1="62.5" x2="1160" y2="62.5"/>
<text x="1161.25" y="67" fill="#00ffff" stroke="#00ffff">6.00</text>
<text x="1192" y="49" fill="#808080" stroke="#808080">°</text>
<line class="ax" x1="1192.5" y1="62" x2="1192.5" y2="613"/>
<line class="ax" x1="1188" y1="62.5" x2="1196" y2="62.5"/>
<line class="ax" x1="1188" y1="612.5" x2="1196" y2="612.5"/>
<line class="ax" x1="1193" y1="612.5" x2="1197" y2="612.5"/>
<text x="1198.25" y="617" fill="#808080" stroke="#808080">0</text>
<line class="ax" x1="1193" y1="566.5" x2="1197" y2="566.5"/>
<text x="1198.25" y="571" fill="#808080" stroke="#808080">30</text>
<line class="ax" x1="1193" y1="520.5" x2="1197" y2="520.5"/>
<text x="1198.25" y="525" fill="#808080" stroke="#808080">60</text>
<line class="ax" x1="1193" y1="475.5" x2="1197" y2="475.5"/>
<text x="1198.25" y="480" fill="#808080" stroke="#808080">90</text>
<line class="ax" x1="1193" y1="429.5" x2="1197" y2="429.5"/>
<text x="1198.25" y="434" fill="#808080" stroke="#808080">120</text>
<line class="ax" x1="1193" y1="383.5" x2="1197" y2="383.5"/>
<text x="1198.25" y="388" fill="#808080" stroke="#808080">150</text>
<line class="ax" x1="1193" y1="337.5" x2="1197" y2="337.5"/>
<text x="1198.25" y="342" fill="#808080" stroke="#808080">180</text>
<line class="ax" x1="1193" y1="291.5" x2="1197" y2="291.5"/>
<text x="1198.25" y="296" fill="#808080" stroke="#808080">210</text>
<line class="ax" x1="1193" y1="245.5" x2="1197" y2="245.5"/>
<text x="1198.25" y="250" fill="#808080" stroke="#808080">240</text>
<line class="ax" x1="1193" y1="200.5" x2="1197" y2="200.5"/>
<text x="1198.25" y="205" fill="#808080" stroke="#808080">270</text>
<line class="ax" x1="1193" y1="154.5" x2="1197" y2="154.5"/>
<text x="1198.25" y="159" fill="#808080" stroke="#808080">300</text>
<line class="ax" x1="1193" y1="108.5" x2="1197" y2="108.5"/>
<text x="1198.25" y="113" fill="#808080" stroke="#808080">330</text>
<line class="ax" x1="1193" y1="62.5" x2="1197" y2="62.5"/>
<text x="1198.25" y="67" fill="#808080" stroke="#808080">360</text>
<rect x="1222" y="0" width="52" height="724" fill="#000"/>
<rect x="1" y="652" width="1215" height="72" fill="#e0f8d0"/>
<rect x="88" y="652" width="1" height="72" fill="#888888" shape-rendering="crispEdges"/>
<rect x="205" y="652" width="1" height="72" fill="#888888" shape-rendering="crispEdges"/>
<rect x="323" y="652" width="1" height="72" fill="#888888" shape-rendering="crispEdges"/>
<rect x="441" y="652" width="1" height="72" fill="#888888" shape-rendering="crispEdges"/>
<rect x="559" y="652" width="1" height="72" fill="#888888" shape-rendering="crispEdges"/>
<rect x="677" y="652" width="1" height="72" fill="#888888" shape-rendering="crispEdges"/>
<rect x="795" y="652" width="1" height="72" fill="#888888" shape-rendering="crispEdges"/>
<rect x="913" y="652" width="1" height="72" fill="#888888" shape-rendering="crispEdges"/>
<text x="8.5" y="670" fill="#000" stroke="#000" class="b">Sensor</text>
<text x="8.5" y="686" fill="#000" stroke="#000" class="b">MinWert</text>
<text x="8.5" y="702" fill="#000" stroke="#000" class="b">MaxWert</text>
<text x="8.5" y="718" fill="#000" stroke="#000" class="b">Durchschnitt</text>
<text x="94.5" y="670" fill="#000" stroke="#000" class="b">Außen</text>
<text x="198.0" y="670" fill="#000" stroke="#000" class="e b">°C</text>
<text x="100.5" y="686" fill="#000" stroke="#000">00:15</text>
<text x="198.0" y="686" fill="#000" stroke="#000" class="e">7.7</text>
<text x="100.5" y="702" fill="#000" stroke="#000">13:45</text>
<text x="198.0" y="702" fill="#000" stroke="#000" class="e">15.7</text>
<text x="100.5" y="718" fill="#000" stroke="#000">(+ 4.91 )</text>
<text x="198.0" y="718" fill="#000" stroke="#000" class="e">10.86</text>
<text x="212.5" y="670" fill="#000" stroke="#000" class="b">Feuchte</text>
<text x="316.0" y="670" fill="#000" stroke="#000" class="e b">%</text>
<text x="218.5" y="686" fill="#000" stroke="#000">16:00</text>
<text x="316.0" y="686" fill="#000" stroke="#000" class="e">50</text>
<text x="218.5" y="702" fill="#000" stroke="#000">22:30</text>
<text x="316.0" y="702" fill="#000" stroke="#000" class="e">83</text>
<text x="316.0" y="718" fill="#000" stroke="#000" class="e">76</text>
<text x="330.5" y="670" fill="#000" stroke="#000" class="b">Luftdruck</text>
<text x="434.0" y="670" fill="#000" stroke="#000" class="e b">hPa</text>
<text x="336.5" y="686" fill="#000" stroke="#000">15:15</text>
<text x="434.0" y="686" fill="#000" stroke="#000" class="e">1010.5</text>
<text x="336.5" y="702" fill="#000" stroke="#000">00:15</text>
<text x="434.0" y="702" fill="#000" stroke="#000" class="e">1013.3</text>
<text x="330.5" y="718" fill="#000" stroke="#000">^1.2hPa/h</text>
<text x="434.0" y="718" fill="#000" stroke="#000" class="e">1012.0</text>
<text x="448.5" y="670" fill="#000" stroke="#000" class="b">Wind</text>
<text x="552.0" y="670" fill="#000" stroke="#000" class="e b">km/h</text>
<text x="448.5" y="686" fill="#000" stroke="#000">Ø 10 min.</text>
<text x="552.0" y="686" fill="#000" stroke="#000" class="e">51.3</text>
<text x="454.5" y="702" fill="#000" stroke="#000">00:00</text>
<text x="552.0" y="702" fill="#000" stroke="#000" class="e">S-SW 51.3</text>
<text x="454.5" y="718" fill="#000" stroke="#000">1231.2 km</text>
<text x="552.0" y="718" fill="#000" stroke="#000" class="e">51.3</text>
<text x="566.5" y="670" fill="#000" stroke="#000" class="b">Richtung</text>
<text x="572.5" y="686" fill="#000" stroke="#000">00:00</text>
<text x="670.0" y="686" fill="#000" stroke="#000" class="e">S-SW</text>
<text x="572.5" y="702" fill="#000" stroke="#000">00:00</text>
<text x="670.0" y="702" fill="#000" stroke="#000" class="e">S-SW</text>
<text x="670.0" y="718" fill="#000" stroke="#000" class="e">S-SW</text>
<text x="684.5" y="670" fill="#000" stroke="#000">Regen/1h</text>
<text x="788.0" y="670" fill="#000" stroke="#000" class="e">0.00l/m²</text>
<text x="684.5" y="686" fill="#000" stroke="#000">Regen/Tag</text>
<text x="788.0" y="686" fill="#000" stroke="#000" class="e">0.00l/m²</text>
<text x="684.5" y="702" fill="#000" stroke="#000">Neumond</text>
<text x="788.0" y="702" fill="#000" stroke="#000" class="e">20.11.25</text>
<text x="684.5" y="718" fill="#000" stroke="#000">Vollmond</text>
<text x="788.0" y="718" fill="#000" stroke="#000" class="e">05.12.25</text>
<text x="802.5" y="670" fill="#000" stroke="#000">Wolkenunterg</text>
<text x="906.0" y="670" fill="#000" stroke="#000" class="e">424m</text>
<text x="802.5" y="686" fill="#000" stroke="#000">Sichtweite</text>
<text x="906.0" y="686" fill="#000" stroke="#000" class="e">6-10km</text>
<text x="802.5" y="702" fill="#000" stroke="#000">Schneefallgr</text>
<text x="906.0" y="702" fill="#000" stroke="#000" class="e">1560m</text>
<text x="802.5" y="718" fill="#000" stroke="#000">Schneehöhe</text>
<text x="906.0" y="718" fill="#000" stroke="#000" class="e">0cm</text>
<text x="920.5" y="670" fill="#000" stroke="#000" class="b">Solar</text>
<text x="1022.0" y="670" fill="#000" stroke="#000" class="e b">W/m²</text>
<text x="920.5" y="686" fill="#000" stroke="#000">Elevation</text>
<text x="1022.0" y="686" fill="#000" stroke="#000" class="e">-56.295</text>
<text x="926.5" y="702" fill="#000" stroke="#000">11:00</text>
<text x="1022.0" y="702" fill="#000" stroke="#000" class="e">165</text>
<text x="920.5" y="718" fill="#000" stroke="#000">Tag:0 min.</text>
<text x="1022.0" y="718" fill="#000" stroke="#000" class="e">97</text>
</svg></body></html>
